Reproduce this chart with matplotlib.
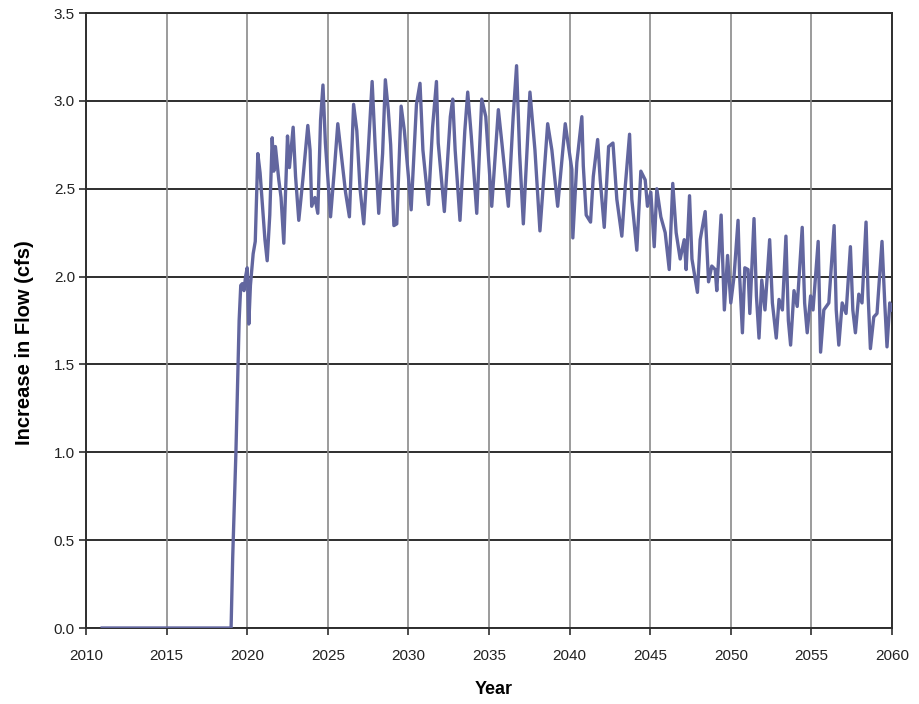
import matplotlib
matplotlib.use("Agg")
import matplotlib.pyplot as plt

years = [
    2011.0, 2019.0, 2019.1, 2019.3, 2019.5, 2019.6, 2019.7, 2019.8, 2019.9, 2020.0,
    2020.1, 2020.2, 2020.37, 2020.5, 2020.66, 2020.8, 2021.0, 2021.1, 2021.24, 2021.4,
    2021.55, 2021.65, 2021.75, 2021.96, 2022.1, 2022.27, 2022.5, 2022.62, 2022.85, 2023.0,
    2023.2, 2023.45, 2023.76, 2023.9, 2024.0, 2024.2, 2024.38, 2024.55, 2024.7, 2024.85,
    2025.17, 2025.4, 2025.62, 2025.9, 2026.1, 2026.34, 2026.6, 2026.8, 2027.0, 2027.23,
    2027.5, 2027.75, 2027.95, 2028.16, 2028.4, 2028.57, 2028.75, 2028.9, 2029.1, 2029.28,
    2029.55, 2029.75, 2030.0, 2030.17, 2030.5, 2030.72, 2030.9, 2031.24, 2031.5, 2031.74,
    2031.85, 2032.23, 2032.6, 2032.75, 2032.9, 2033.2, 2033.5, 2033.68, 2033.9, 2034.24,
    2034.55, 2034.8, 2035.17, 2035.58, 2035.8, 2036.2, 2036.5, 2036.71, 2036.9, 2037.13,
    2037.54, 2037.85, 2038.16, 2038.64, 2038.9, 2039.26, 2039.45, 2039.73, 2039.9, 2040.14,
    2040.2, 2040.45, 2040.76, 2040.85, 2041.03, 2041.3, 2041.47, 2041.74, 2041.9, 2042.15,
    2042.42, 2042.69, 2042.93, 2043.24, 2043.45, 2043.72, 2043.86, 2044.17, 2044.42, 2044.69,
    2044.83, 2045.04, 2045.25, 2045.41, 2045.66, 2045.93, 2046.18, 2046.4, 2046.61, 2046.86,
    2047.11, 2047.23, 2047.44, 2047.59, 2047.93, 2048.1, 2048.41, 2048.62, 2048.82, 2049.03,
    2049.13, 2049.4, 2049.6, 2049.8, 2050.0, 2050.2, 2050.45, 2050.55, 2050.72, 2050.87,
    2051.07, 2051.18, 2051.44, 2051.59, 2051.75, 2051.92, 2052.12, 2052.41, 2052.58, 2052.82,
    2052.99, 2053.2, 2053.42, 2053.57, 2053.71, 2053.92, 2054.12, 2054.43, 2054.58, 2054.74,
    2054.95, 2055.1, 2055.42, 2055.57, 2055.77, 2056.08, 2056.41, 2056.54, 2056.7, 2056.91,
    2057.15, 2057.42, 2057.57, 2057.73, 2057.94, 2058.14, 2058.39, 2058.52, 2058.66, 2058.87,
    2059.07, 2059.38, 2059.55, 2059.69, 2059.86, 2060.0,
]

flow_increase = [
    0.0, 0.0, 0.4, 1.0, 1.75, 1.95, 1.96, 1.92, 2.0, 2.05,
    1.73, 1.95, 2.13, 2.2, 2.70, 2.59, 2.34, 2.21, 2.09, 2.35,
    2.79, 2.60, 2.74, 2.55, 2.45, 2.19, 2.80, 2.62, 2.85, 2.57,
    2.32, 2.55, 2.86, 2.72, 2.40, 2.45, 2.36, 2.89, 3.09, 2.76,
    2.34, 2.60, 2.87, 2.64, 2.48, 2.34, 2.98, 2.83, 2.50, 2.30,
    2.70, 3.11, 2.72, 2.36, 2.70, 3.12, 2.95, 2.75, 2.29, 2.30,
    2.97, 2.83, 2.57, 2.38, 2.98, 3.10, 2.72, 2.41, 2.85, 3.11,
    2.76, 2.37, 2.91, 3.01, 2.72, 2.32, 2.83, 3.05, 2.80, 2.36,
    3.01, 2.91, 2.40, 2.95, 2.76, 2.40, 2.91, 3.20, 2.70, 2.30,
    3.05, 2.72, 2.26, 2.87, 2.72, 2.40, 2.59, 2.87, 2.76, 2.61,
    2.22, 2.65, 2.91, 2.63, 2.35, 2.31, 2.57, 2.78, 2.55, 2.28,
    2.74, 2.76, 2.44, 2.23, 2.51, 2.81, 2.44, 2.15, 2.60, 2.55,
    2.40, 2.48, 2.17, 2.50, 2.34, 2.25, 2.04, 2.53, 2.25, 2.10,
    2.21, 2.04, 2.46, 2.10, 1.91, 2.21, 2.37, 1.97, 2.06, 2.04,
    1.92, 2.35, 1.81, 2.12, 1.85, 2.00, 2.32, 2.00, 1.68, 2.05,
    2.04, 1.79, 2.33, 1.89, 1.65, 1.98, 1.81, 2.21, 1.85, 1.65,
    1.87, 1.81, 2.23, 1.75, 1.61, 1.92, 1.83, 2.28, 1.85, 1.68,
    1.89, 1.81, 2.20, 1.57, 1.81, 1.85, 2.29, 1.81, 1.61, 1.85,
    1.79, 2.17, 1.81, 1.68, 1.90, 1.85, 2.31, 1.89, 1.59, 1.77,
    1.79, 2.20, 1.85, 1.60, 1.85, 1.81,
]

x_ticks = [2010, 2015, 2020, 2025, 2030, 2035, 2040, 2045, 2050, 2055, 2060]
y_ticks = [0.0, 0.5, 1.0, 1.5, 2.0, 2.5, 3.0, 3.5]

plt.rcParams['font.family'] = ['Liberation Sans Narrow', 'Liberation Sans', 'DejaVu Sans']

fig = plt.figure(figsize=(9.2, 7.04), dpi=100)
ax = fig.add_axes([86 / 920, 1 - 628 / 704, (892 - 86) / 920, (628 - 13) / 704])

ax.set_xlim(2010, 2060)
ax.set_ylim(0, 3.5)
ax.set_xticks(x_ticks)
ax.set_yticks(y_ticks)
ax.set_yticklabels([f"{v:.1f}" for v in y_ticks])

for yv in y_ticks:
    ax.axhline(yv, color='#2e2e2e', lw=1.4, zorder=1)
for xv in x_ticks:
    ax.axvline(xv, color='#8a8a8a', lw=1.2, zorder=1)

ax.plot(years, flow_increase, color='#62669f', lw=2.4, zorder=3, solid_joinstyle='round')

for s in ax.spines.values():
    s.set_color('#2e2e2e')
    s.set_linewidth(1.4)

ax.tick_params(axis='both', direction='out', length=5, width=1.2, color='#2e2e2e',
               labelsize=11, labelcolor='#222222')
ax.tick_params(axis='x', pad=10)
ax.tick_params(axis='y', pad=3)

ax.set_xlabel('Year', fontsize=13, fontweight='bold', family=['Liberation Sans', 'DejaVu Sans'])
ax.xaxis.set_label_coords((494 - 86) / 806, (628 - 690) / 615)
ax.xaxis.label.set_verticalalignment('center')
ax.set_ylabel('Increase in Flow (cfs)', fontsize=14.5, fontweight='bold',
              family=['Liberation Sans', 'DejaVu Sans'])
ax.yaxis.set_label_coords((25 - 86) / 806, (628 - 343) / 615)
ax.yaxis.label.set_verticalalignment('center')

fig.savefig('out.png', dpi=100)
